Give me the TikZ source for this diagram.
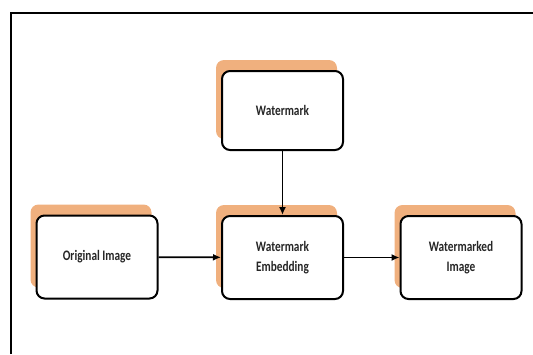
\documentclass[tikz,border=0pt]{standalone}
\usepackage{fontspec}
\setmainfont{Carlito}[FakeStretch=0.78]
\usetikzlibrary{shadows,arrows.meta}
\definecolor{shadoworange}{HTML}{F0B07E}
\definecolor{textgray}{HTML}{262626}
\begin{document}
\begin{tikzpicture}[x=1pt,y=-1pt,
  blockbox/.style={draw=black, line width=2pt, rounded corners=8pt, fill=white,
    minimum width=121pt, minimum height=83pt, align=center, text=textgray,
    font=\fontsize{14.5}{20}\selectfont\bfseries,
    general shadow={fill=shadoworange, draw=none, shadow xshift=-6pt, shadow yshift=11pt}},
  flow/.style={draw=black, line width=1.8pt, -{Latex[length=8pt,width=7pt]}}]
\useasboundingbox (0,0) rectangle (533,354);
\draw[line width=2pt] (11,354) -- (11,13) -- (533,13);
\node[blockbox, minimum height=79pt] (wm) at (282.5,110.5) {Watermark};
\node[blockbox] (orig) at (97,257) {Original Image};
\node[blockbox] (emb) at (282.5,257.5) {Watermark\\Embedding};
\node[blockbox] (out) at (461,257.5) {Watermarked\\Image};
\draw[flow] (wm) -- (emb);
\draw[flow] (orig) -- (emb);
\draw[flow] (emb) -- (out);
\end{tikzpicture}
\end{document}
